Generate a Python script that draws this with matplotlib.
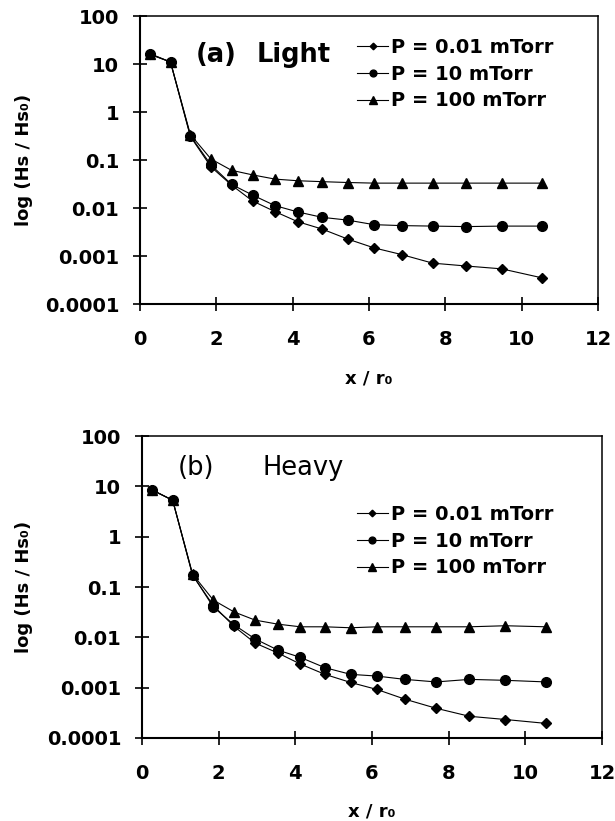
import matplotlib
matplotlib.use("Agg")
import matplotlib.pyplot as plt

plt.rcParams['font.family'] = ['DejaVu Sans']

# x positions (same for both panels)
x_r0 = [0.26, 0.80, 1.32, 1.86, 2.40, 2.95, 3.54, 4.13, 4.77, 5.44, 6.13, 6.86, 7.67, 8.54, 9.48, 10.54]

# (a) Light
light_001 = [16, 11, 0.31, 0.072, 0.030, 0.014, 0.0084, 0.0052, 0.00365, 0.00226,
             0.00148, 0.00107, 0.00071, 0.00062, 0.00054, 0.00035]
light_10 = [16, 11, 0.32, 0.079, 0.031, 0.0186, 0.0112, 0.0083, 0.0064, 0.0056,
            0.0045, 0.0043, 0.0042, 0.0041, 0.0042, 0.0042]
light_100 = [16.5, 11, 0.34, 0.105, 0.061, 0.049, 0.040, 0.037, 0.0354, 0.034,
             0.033, 0.033, 0.033, 0.033, 0.033, 0.033]

# (b) Heavy
heavy_001 = [8.5, 5.3, 0.17, 0.043, 0.0165, 0.0077, 0.0049, 0.00295, 0.00184, 0.00127,
             0.00092, 0.00059, 0.00039, 0.00027, 0.000233, 0.000195]
heavy_10 = [8.5, 5.3, 0.175, 0.040, 0.0178, 0.0093, 0.0056, 0.0040, 0.0025, 0.00184,
            0.0017, 0.00146, 0.0013, 0.00146, 0.0014, 0.0013]
heavy_100 = [8.5, 5.3, 0.18, 0.055, 0.032, 0.022, 0.0183, 0.0162, 0.0162, 0.0155,
             0.0162, 0.0162, 0.0162, 0.0162, 0.0170, 0.0162]

labels = ['P = 0.01 mTorr', 'P = 10 mTorr', 'P = 100 mTorr']
markers = ['D', 'o', '^']
msizes = [4.8, 7, 7.5]
yticks = [0.0001, 0.001, 0.01, 0.1, 1, 10, 100]
ytick_labels = ['0.0001', '0.001', '0.01', '0.1', '1', '10', '100']
xticks = [0, 2, 4, 6, 8, 10, 12]


def draw_panel(ax, series, tag, name, name_weight, text_pos, legend_pos, xlab_y, ylab_x):
    for ys, m, ms, lab in zip(series, markers, msizes, labels):
        ax.plot(x_r0, ys, color='black', lw=0.8, marker=m, ms=ms, label=lab)
    ax.set_yscale('log')
    ax.set_xlim(0, 12)
    ax.set_ylim(0.0001, 100)
    ax.set_yticks(yticks)
    ax.set_yticklabels(ytick_labels)
    ax.minorticks_off()
    ax.set_xticks(xticks)
    ax.tick_params(axis='both', labelsize=14, width=1.2, length=10, direction='inout')
    ax.tick_params(axis='x', pad=14)
    ax.tick_params(axis='y', pad=10)
    for t in ax.get_xticklabels() + ax.get_yticklabels():
        t.set_fontweight('bold')
    for s in ['left', 'bottom']:
        ax.spines[s].set_linewidth(1.5)
    for s in ['top', 'right']:
        ax.spines[s].set_linewidth(1.1)
    ax.set_xlabel('x / r\u2080', fontsize=13, fontweight='bold')
    ax.xaxis.set_label_coords(0.5, xlab_y)
    ax.set_ylabel('log (Hs / Hs\u2080)', fontsize=13, fontweight='bold')
    ax.yaxis.set_label_coords(ylab_x, 0.5)
    ax.text(text_pos[0], text_pos[2], tag, transform=ax.transAxes,
            fontsize=18.5, fontweight=name_weight, va='center', ha='left')
    ax.text(text_pos[1], text_pos[2], name, transform=ax.transAxes,
            fontsize=18.5, fontweight=name_weight, va='center', ha='left')
    ax.legend(loc='upper left', bbox_to_anchor=legend_pos, frameon=False,
              handlelength=1.6, handletextpad=0.15, labelspacing=0.4, markerscale=0.7,
              borderaxespad=0, borderpad=0, prop={'size': 14, 'weight': 'bold'})


fig = plt.figure(figsize=(6.15, 8.21), dpi=100)
ax1 = fig.add_axes([0.2276, 0.6297, 0.7447, 0.3508])
ax2 = fig.add_axes([0.2309, 0.1011, 0.748, 0.3678])

draw_panel(ax1, [light_001, light_10, light_100], '(a)', 'Light', 'bold',
           (0.122, 0.255, 0.865), (0.474, 0.924), -0.229, -0.234)
draw_panel(ax2, [heavy_001, heavy_10, heavy_100], '(b)', 'Heavy', 'normal',
           (0.078, 0.263, 0.894), (0.467, 0.772), -0.212, -0.237)

fig.savefig('out.png', dpi=100)
